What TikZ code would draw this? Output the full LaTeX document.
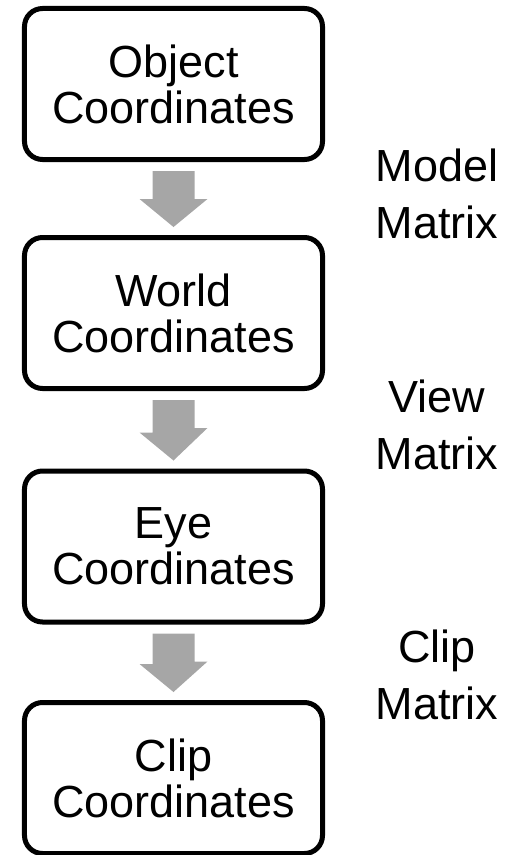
\documentclass[tikz,border=0pt]{standalone}
\usepackage{fontspec}
\setmainfont{Liberation Sans}
\usetikzlibrary{calc}
\tikzset{
  stage/.style={draw=black, line width=5bp, rounded corners=18bp, fill=white,
    minimum width=298bp, minimum height=151bp, inner sep=0pt, align=center,
    font=\fontsize{45bp}{46bp}\selectfont},
  matlabel/.style={align=center, inner sep=0pt,
    font=\fontsize{45bp}{57bp}\selectfont},
  flowarrow/.style={fill=arrowgray, draw=none}
}
\definecolor{arrowgray}{HTML}{A6A6A6}
\newcommand\blockarrow[2]{%
  \fill[flowarrow] ($(#1.south)+(-21,9)$) -- ++(42,0) -- ++(0,28) -- ++(13,0)
    -- ($(#2.north)+(0,-8)$) -- ++(-34,-28) -- ++(13,0) -- cycle;}
\begin{document}
\begin{tikzpicture}[x=1bp,y=-1bp]
\useasboundingbox (0,0) rectangle (517,855);
\node[stage] (obj)  at (173.5,84)  {Object\\Coordinates};
\node[stage] (wor)  at (173.5,313) {World\\Coordinates};
\node[stage] (eye)  at (173.5,546.5) {Eye\\Coordinates};
\node[stage] (clp)  at (173.5,778) {Clip\\Coordinates};
\blockarrow{obj}{wor}
\blockarrow{wor}{eye}
\blockarrow{eye}{clp}
\node[matlabel] (mm) at (437,194) {Model\\Matrix};
\node[matlabel] (vm) at (437,425) {View\\Matrix};
\node[matlabel] (cm) at (437,675) {Clip\\Matrix};
\end{tikzpicture}
\end{document}
